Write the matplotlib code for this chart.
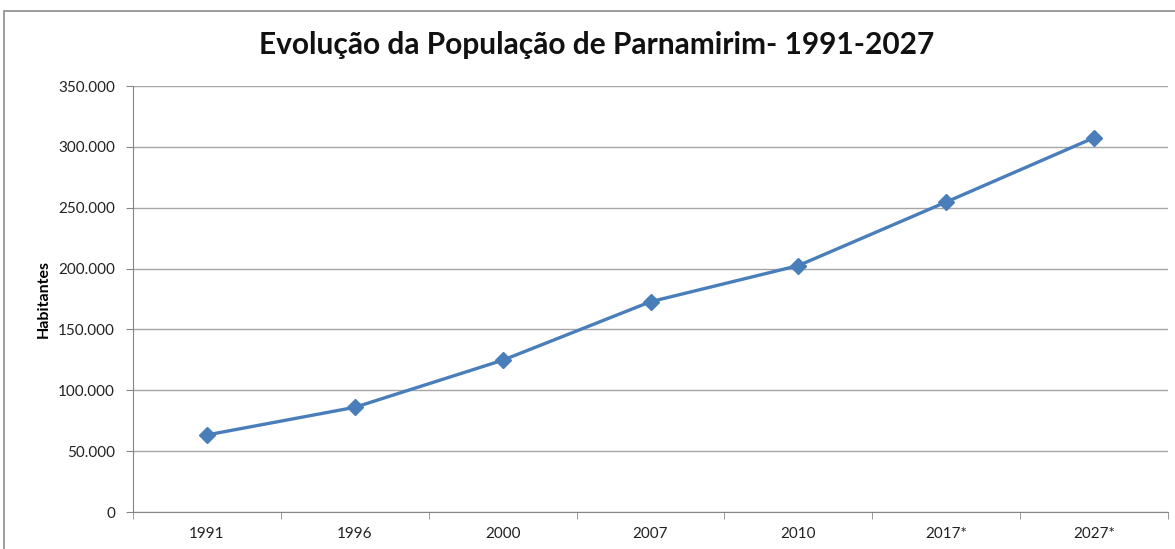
import matplotlib.pyplot as plt
from matplotlib.patches import Rectangle
from matplotlib.ticker import FuncFormatter, FixedLocator

plt.rcParams['font.family'] = ['Lato', 'DejaVu Sans']

anos = ["1991", "1996", "2000", "2007", "2010", "2017*", "2027*"]
habitantes = [63312, 86010, 124690, 172751, 202456, 254700, 307500]
y_ticks = [0, 50000, 100000, 150000, 200000, 250000, 300000, 350000]

W, H = 1175, 549
fig = plt.figure(figsize=(W / 100, H / 100), dpi=100)
fig.patch.set_facecolor("white")

# chart frame (runs off the right and bottom edges)
fig.patches.append(Rectangle((4 / W, -0.1), 1.2, 1 - 11 / H + 0.1,
                             transform=fig.transFigure, fill=False,
                             edgecolor="#8c8c8c", linewidth=1.2))

left, right, top, bottom = 133, 1168, 86, 512
ax = fig.add_axes([left / W, 1 - bottom / H, (right - left) / W, (bottom - top) / H])

x = list(range(len(anos)))
ax.plot(x, habitantes, color="#4A7EBB", linewidth=2.4, marker="D",
        markersize=8, markerfacecolor="#4A7EBB", markeredgecolor="#4A7EBB", zorder=3)

ax.set_xlim(-0.5, len(anos) - 0.5)
ax.set_ylim(0, 350000)
ax.set_yticks(y_ticks)
ax.yaxis.set_major_formatter(FuncFormatter(lambda v, p: f"{int(v):,}".replace(",", ".")))
ax.yaxis.grid(True, color="#a6a6a6", linewidth=1)
ax.set_axisbelow(True)

# category labels centred, tick marks on the boundaries
ax.set_xticks(x)
ax.set_xticklabels(anos)
ax.tick_params(axis="x", which="major", length=0, pad=11, labelsize=11, labelcolor="#222222")
ax.xaxis.set_minor_locator(FixedLocator([i + 0.5 for i in range(-1, len(anos))]))
ax.tick_params(axis="x", which="minor", length=5, color="#868686")
ax.tick_params(axis="y", length=5, color="#868686", pad=8, labelsize=11, labelcolor="#222222")

for side in ["top", "right"]:
    ax.spines[side].set_visible(False)
for side in ["left", "bottom"]:
    ax.spines[side].set_color("#868686")

ax.set_ylabel("Habitantes", fontsize=11.5, fontweight="bold")
ax.yaxis.set_label_coords(-0.079, 0.5)

fig.text(0.508, 1 - 45 / H, "Evolução da População de Parnamirim- 1991-2027",
         ha="center", va="center", fontsize=21.5, fontweight="bold", color="#111111")

fig.savefig("out.png", dpi=100)
